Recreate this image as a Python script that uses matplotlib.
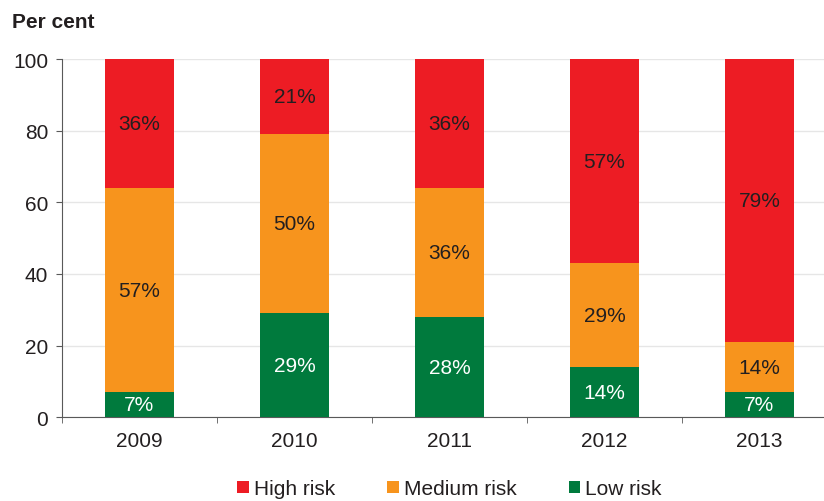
import matplotlib.pyplot as plt
import numpy as np

plt.rcParams['font.family'] = ['Liberation Sans', 'DejaVu Sans']

years = ['2009', '2010', '2011', '2012', '2013']
low = [7, 29, 28, 14, 7]
medium = [57, 50, 36, 29, 14]
high = [36, 21, 36, 57, 79]

red = '#ED1C24'
orange = '#F7941D'
green = '#007A3D'
text_dark = '#231F20'

fig = plt.figure(figsize=(8.24, 5.02), dpi=100)
# plot area runs past the right edge of the figure
ax = fig.add_axes([0.0752, 0.167, 0.9405, 0.713])

x = np.arange(len(years))
w = 0.44
low_a = np.array(low)
med_a = np.array(medium)
high_a = np.array(high)

b_low = ax.bar(x, low_a, w, color=green, label='Low risk', zorder=3)
b_med = ax.bar(x, med_a, w, bottom=low_a, color=orange, label='Medium risk', zorder=3)
b_high = ax.bar(x, high_a, w, bottom=low_a + med_a, color=red, label='High risk', zorder=3)

# percentage labels in the middle of each segment
for bars, vals, col in [(b_low, low, 'white'), (b_med, medium, text_dark), (b_high, high, text_dark)]:
    for rect, v in zip(bars, vals):
        cy = rect.get_y() + rect.get_height() / 2
        ax.text(rect.get_x() + rect.get_width() / 2, cy, f'{v}%',
                ha='center', va='center', fontsize=15, color=col, zorder=4)

ax.set_xlim(-0.5, len(years) - 0.5)
ax.set_ylim(0, 100)
ax.set_yticks([0, 20, 40, 60, 80, 100])
ax.set_xticks(x)
ax.set_xticklabels(years)
ax.set_xticks(np.arange(-0.5, len(years)), minor=True)

ax.grid(axis='y', color='#E6E6E6', linewidth=1, zorder=0)
for s in ['top', 'right']:
    ax.spines[s].set_visible(False)
ax.spines['left'].set_color('#595959')
ax.spines['bottom'].set_color('#595959')

ax.tick_params(axis='y', labelsize=15, colors='#595959', labelcolor=text_dark, length=4, pad=6)
ax.tick_params(axis='x', which='major', length=0, labelsize=15, labelcolor=text_dark, pad=10)
ax.tick_params(axis='x', which='minor', length=4, direction='out', color='#595959')

fig.text(0.015, 0.956, 'Per cent', fontsize=15, fontweight='bold', color=text_dark, va='center')

handles = [b_high, b_med, b_low]
ax.legend(handles, [h.get_label() for h in handles], loc='center',
          bbox_to_anchor=(0.5, -0.2), ncol=3, frameon=False, fontsize=15,
          handlelength=0.55, handleheight=0.55, handletextpad=0.25, columnspacing=2.5,
          labelcolor=text_dark)

fig.savefig('out.png', dpi=100)
